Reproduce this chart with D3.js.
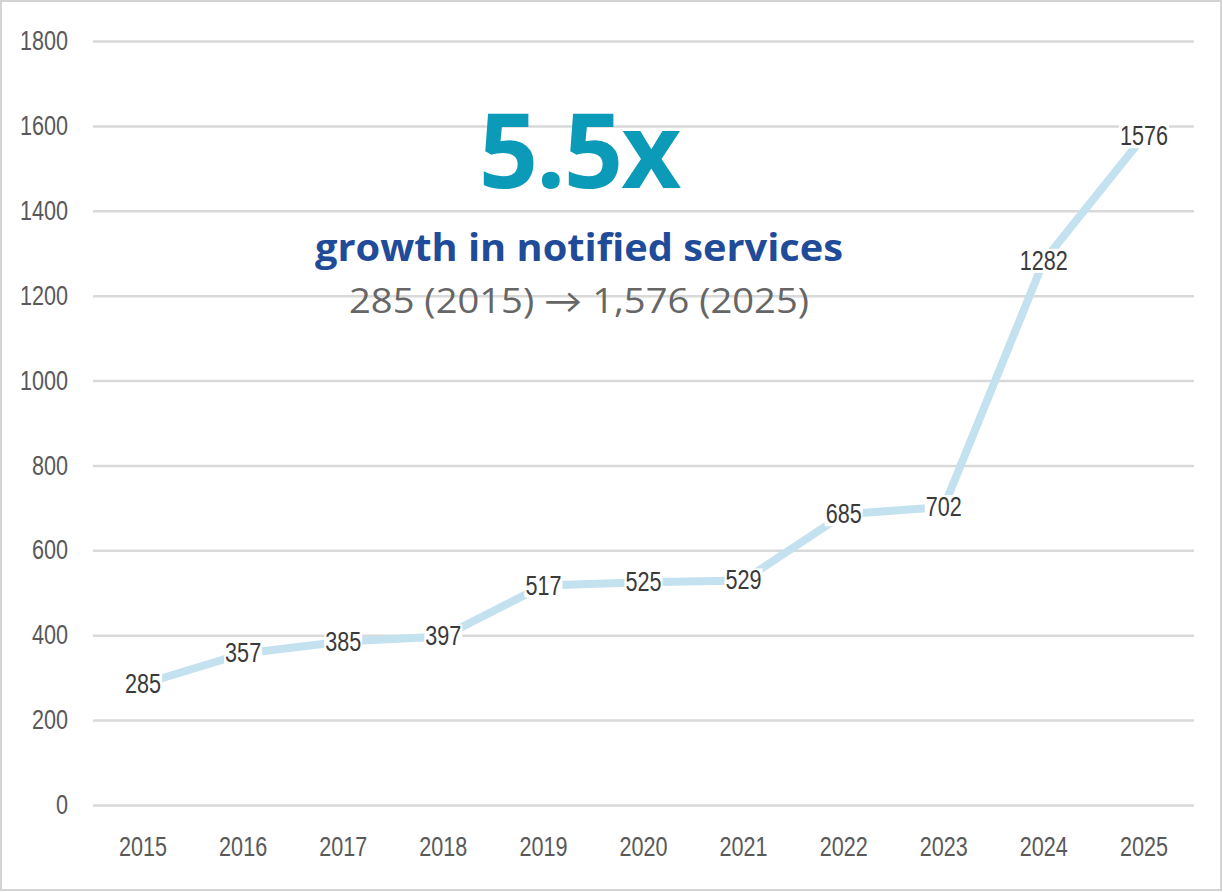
<!DOCTYPE html>
<html>
<head>
<meta charset="utf-8">
<script src="https://cdn.jsdelivr.net/npm/d3@7"></script>
<style>
  html, body { margin: 0; padding: 0; background: #fff; }
  svg { display: block; }
</style>
</head>
<body>
<svg id="chart" width="1223" height="892"></svg>
<script>
// Notified services per year
const years = ["2015", "2016", "2017", "2018", "2019", "2020", "2021", "2022", "2023", "2024", "2025"];
const services = [285, 357, 385, 397, 517, 525, 529, 685, 702, 1282, 1576];
const yTicks = [0, 200, 400, 600, 800, 1000, 1200, 1400, 1600, 1800];

const headline = "5.5x";
const subhead = "growth in notified services";
const detail = "285 (2015) \u2192 1,576 (2025)";

const W = 1223, H = 892;
const margin = { left: 93, right: 29, top: 41, bottom: 87 };
const numFont = "'Liberation Sans', Arial, sans-serif";
const numSize = "27px";
const narrow = 0.8; // horizontal squeeze for the condensed numerals
const titleFont = "'Open Sans', 'Lato', sans-serif";

// squeeze a text element horizontally to mimic a narrow typeface
function condense(sel) {
  sel.each(function () {
    const w = this.getComputedTextLength();
    d3.select(this)
      .attr("textLength", w * narrow)
      .attr("lengthAdjust", "spacingAndGlyphs");
  });
}

const svg = d3.select("#chart");

// outer frame
svg.append("rect")
  .attr("x", 1).attr("y", 1)
  .attr("width", W - 3).attr("height", H - 3)
  .attr("fill", "#fff")
  .attr("stroke", "#d4d4d4")
  .attr("stroke-width", 2);

const x = d3.scaleBand()
  .domain(years)
  .range([margin.left, W - margin.right]);

const y = d3.scaleLinear()
  .domain([0, 1800])
  .range([H - margin.bottom, margin.top]);

// horizontal gridlines with value labels on the left
const yAxis = svg.append("g")
  .attr("transform", `translate(${margin.left},0)`)
  .call(d3.axisLeft(y).tickValues(yTicks).tickSize(-(W - margin.left - margin.right)).tickPadding(25).tickFormat(d3.format("d")));
yAxis.select(".domain").remove();
yAxis.selectAll(".tick line").attr("stroke", "#d9d9d9").attr("stroke-width", 2.5);
yAxis.selectAll(".tick text")
  .attr("fill", "#595959")
  .style("font-family", numFont)
  .style("font-size", numSize)
  .call(condense);

// category labels along the bottom
const xAxis = svg.append("g")
  .attr("transform", `translate(0,${H - margin.bottom})`)
  .call(d3.axisBottom(x).tickSize(0).tickPadding(32));
xAxis.select(".domain").remove();
xAxis.selectAll(".tick text")
  .attr("fill", "#595959")
  .style("font-family", numFont)
  .style("font-size", numSize)
  .call(condense);

// trend line
const line = d3.line()
  .x((d, i) => x(years[i]) + x.bandwidth() / 2)
  .y(d => y(d));

svg.append("path")
  .datum(services)
  .attr("d", line)
  .attr("fill", "none")
  .attr("stroke", "#c4e1f0")
  .attr("stroke-width", 8)
  .attr("stroke-linecap", "round")
  .attr("stroke-linejoin", "round");

// value labels centred on each point
const labels = svg.append("g");
services.forEach((v, i) => {
  const cx = x(years[i]) + x.bandwidth() / 2;
  const cy = y(v);
  const g = labels.append("g");
  const t = g.append("text")
    .attr("x", cx).attr("y", cy)
    .attr("text-anchor", "middle")
    .attr("dominant-baseline", "central")
    .attr("fill", "#3a3a3a")
    .style("font-family", numFont)
    .style("font-size", numSize)
    .text(v)
    .call(condense);
  const bb = t.node().getBBox();
  g.insert("rect", "text")
    .attr("x", bb.x - 1).attr("y", bb.y + 3)
    .attr("width", bb.width + 2).attr("height", bb.height - 6)
    .attr("fill", "#fff");
});

// headline block
const cxTitle = 579;
svg.append("text")
  .attr("x", cxTitle).attr("y", 188)
  .attr("text-anchor", "middle")
  .attr("fill", "#0b9ab8")
  .style("font-family", titleFont)
  .style("font-weight", 700)
  .style("font-size", "104px")
  .style("letter-spacing", "-2px")
  .text(headline);

svg.append("text")
  .attr("x", cxTitle).attr("y", 261)
  .attr("text-anchor", "middle")
  .attr("fill", "#1f4b99")
  .style("font-family", titleFont)
  .style("font-weight", 700)
  .style("font-size", "37px")
  .attr("textLength", 528)
  .attr("lengthAdjust", "spacingAndGlyphs")
  .text(subhead);

svg.append("text")
  .attr("x", cxTitle).attr("y", 313)
  .attr("text-anchor", "middle")
  .attr("fill", "#666666")
  .style("font-family", titleFont)
  .style("font-size", "34px")
  .attr("textLength", 460)
  .attr("lengthAdjust", "spacingAndGlyphs")
  .text(detail);
</script>
</body>
</html>
